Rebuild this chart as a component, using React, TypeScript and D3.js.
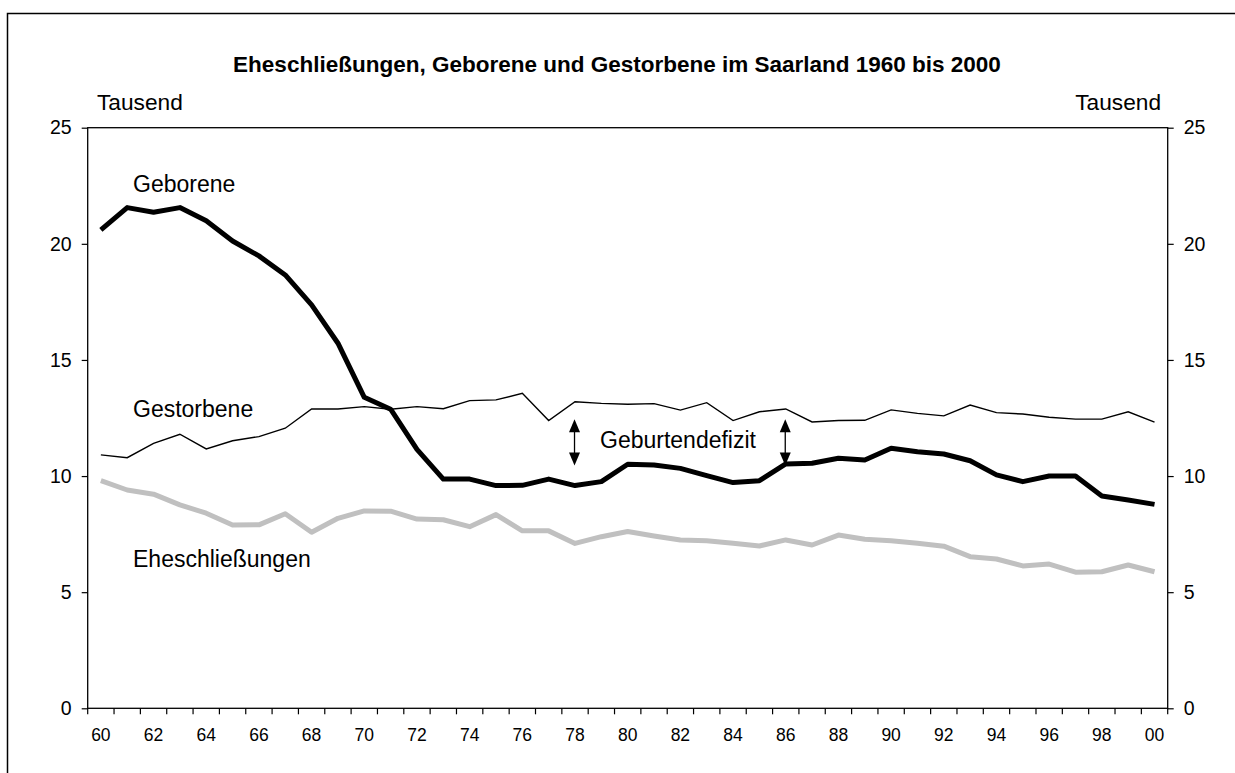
import { useEffect, useRef } from "react";
import * as d3 from "d3";

const YEARS = [
  "60", "61", "62", "63", "64", "65", "66", "67", "68", "69",
  "70", "71", "72", "73", "74", "75", "76", "77", "78", "79",
  "80", "81", "82", "83", "84", "85", "86", "87", "88", "89",
  "90", "91", "92", "93", "94", "95", "96", "97", "98", "99", "00",
];

const GEBORENE = [
  20.6, 21.56, 21.36, 21.56, 20.99, 20.12, 19.48, 18.66, 17.37, 15.72,
  13.39, 12.88, 11.15, 9.87, 9.87, 9.59, 9.6, 9.87, 9.59, 9.76,
  10.51, 10.48, 10.33, 10.02, 9.72, 9.8, 10.52, 10.55, 10.77, 10.69,
  11.2, 11.05, 10.95, 10.66, 10.05, 9.76, 10.0, 10.0, 9.14, 8.97, 8.78,
];

const GESTORBENE = [
  10.91, 10.79, 11.41, 11.8, 11.17, 11.52, 11.7, 12.06, 12.89, 12.89,
  12.99, 12.88, 12.99, 12.9, 13.25, 13.28, 13.56, 12.39, 13.2, 13.13,
  13.09, 13.12, 12.84, 13.16, 12.39, 12.77, 12.89, 12.33, 12.39, 12.4,
  12.85, 12.7, 12.59, 13.06, 12.73, 12.67, 12.53, 12.45, 12.45, 12.77, 12.32,
];

const EHESCHLIESSUNGEN = [
  9.8, 9.4, 9.22, 8.76, 8.4, 7.89, 7.9, 8.38, 7.58, 8.18,
  8.5, 8.49, 8.15, 8.12, 7.82, 8.34, 7.64, 7.64, 7.1, 7.39,
  7.61, 7.42, 7.25, 7.21, 7.11, 6.99, 7.25, 7.03, 7.46, 7.28,
  7.21, 7.11, 6.98, 6.53, 6.43, 6.13, 6.21, 5.86, 5.88, 6.17, 5.88,
];

const Y_TICKS = [0, 5, 10, 15, 20, 25];

// "Geburtendefizit" arrows: years and value range they span
const ARROW_YEARS = ["78", "86"];
const ARROW_RANGE = [12.45, 10.45];

const FONT = "'Liberation Sans', Arial, sans-serif";

export default function App() {
  const svgRef = useRef<SVGSVGElement>(null);

  useEffect(() => {
    if (!svgRef.current) return;
    const width = 1235;
    const height = 773;
    const margin = { left: 87.7, right: 1167.7, top: 127.7, bottom: 708.3 };

    const svg = d3.select(svgRef.current);
    svg.selectAll("*").remove();
    svg.attr("width", width).attr("height", height);

    // outer frame (right and bottom edges lie outside the picture)
    svg.append("rect")
      .attr("x", 7.5).attr("y", 13.5)
      .attr("width", 1400).attr("height", 900)
      .attr("fill", "none").attr("stroke", "#000").attr("stroke-width", 1.5);

    const x = d3.scaleBand().domain(YEARS).range([margin.left, margin.right]);
    const y = d3.scaleLinear().domain([0, 25]).range([margin.bottom, margin.top]);
    const cx = (i: number) => (x(YEARS[i]) ?? 0) + x.bandwidth() / 2;

    // title
    svg.append("text")
      .attr("x", 617).attr("y", 72)
      .attr("text-anchor", "middle")
      .style("font-family", FONT).style("font-size", "22.5px").style("font-weight", "bold")
      .text("Eheschließungen, Geborene und Gestorbene im Saarland 1960 bis 2000");

    svg.append("text")
      .attr("x", 97).attr("y", 110)
      .style("font-family", FONT).style("font-size", "22.7px")
      .text("Tausend");
    svg.append("text")
      .attr("x", 1161).attr("y", 110).attr("text-anchor", "end")
      .style("font-family", FONT).style("font-size", "22.7px")
      .text("Tausend");

    // plot box
    svg.append("rect")
      .attr("x", margin.left).attr("y", margin.top)
      .attr("width", margin.right - margin.left).attr("height", margin.bottom - margin.top)
      .attr("fill", "none").attr("stroke", "#000").attr("stroke-width", 1.3);

    // y axes, both sides
    const left = svg.append("g").attr("transform", `translate(${margin.left},0)`)
      .call(d3.axisLeft(y).tickValues(Y_TICKS).tickSize(6).tickPadding(10));
    const right = svg.append("g").attr("transform", `translate(${margin.right},0)`)
      .call(d3.axisRight(y).tickValues(Y_TICKS).tickSize(6).tickPadding(10));
    [left, right].forEach((ax) => {
      ax.select(".domain").remove();
      ax.selectAll("line").attr("stroke", "#000").attr("stroke-width", 1.2);
      ax.selectAll("text")
        .style("font-family", FONT).style("font-size", "19.5px").attr("fill", "#000");
    });

    // x axis: ticks on band edges, labels every other year
    const bottom = svg.append("g");
    const edges = YEARS.map((yr) => x(yr) ?? 0).concat([margin.right]);
    bottom.selectAll("line")
      .data(edges)
      .enter()
      .append("line")
      .attr("x1", (d) => d).attr("x2", (d) => d)
      .attr("y1", margin.bottom).attr("y2", margin.bottom + 6)
      .attr("stroke", "#000").attr("stroke-width", 1.2);
    bottom.selectAll("text")
      .data(YEARS.filter((_, i) => i % 2 === 0))
      .enter()
      .append("text")
      .attr("x", (d) => (x(d) ?? 0) + x.bandwidth() / 2)
      .attr("y", 741)
      .attr("text-anchor", "middle")
      .style("font-family", FONT).style("font-size", "17.5px")
      .text((d) => d);

    const line = d3.line<number>().x((_, i) => cx(i)).y((d) => y(d));

    svg.append("path").datum(EHESCHLIESSUNGEN)
      .attr("d", line).attr("fill", "none")
      .attr("stroke", "#c0c0c0").attr("stroke-width", 5).attr("stroke-linejoin", "round");
    svg.append("path").datum(GESTORBENE)
      .attr("d", line).attr("fill", "none")
      .attr("stroke", "#000").attr("stroke-width", 1.4);
    svg.append("path").datum(GEBORENE)
      .attr("d", line).attr("fill", "none")
      .attr("stroke", "#000").attr("stroke-width", 5).attr("stroke-linejoin", "round");

    // series labels
    const labels = [
      { text: "Geborene", x: 133, y: 192 },
      { text: "Gestorbene", x: 133, y: 417 },
      { text: "Eheschließungen", x: 133, y: 567 },
      { text: "Geburtendefizit", x: 600, y: 448 },
    ];
    svg.selectAll("text.lbl")
      .data(labels)
      .enter()
      .append("text")
      .attr("class", "lbl")
      .attr("x", (d) => d.x).attr("y", (d) => d.y)
      .style("font-family", FONT).style("font-size", "23px")
      .text((d) => d.text);

    // double-headed arrows marking the birth deficit
    ARROW_YEARS.forEach((yr) => {
      const i = YEARS.indexOf(yr);
      const ax = cx(i) - 0.5;
      const top = y(ARROW_RANGE[0]);
      const bot = y(ARROW_RANGE[1]);
      const g = svg.append("g");
      g.append("line")
        .attr("x1", ax).attr("x2", ax).attr("y1", top + 8).attr("y2", bot - 8)
        .attr("stroke", "#000").attr("stroke-width", 1.3);
      g.append("path")
        .attr("d", `M${ax},${top} L${ax - 5.5},${top + 13} L${ax + 5.5},${top + 13} Z`)
        .attr("fill", "#000");
      g.append("path")
        .attr("d", `M${ax},${bot} L${ax - 5.5},${bot - 13} L${ax + 5.5},${bot - 13} Z`)
        .attr("fill", "#000");
    });
  }, []);

  return (
    <svg
      ref={svgRef}
      width={1235}
      height={773}
      style={{ position: "absolute", left: 0, top: 0, background: "#fff" }}
    />
  );
}
